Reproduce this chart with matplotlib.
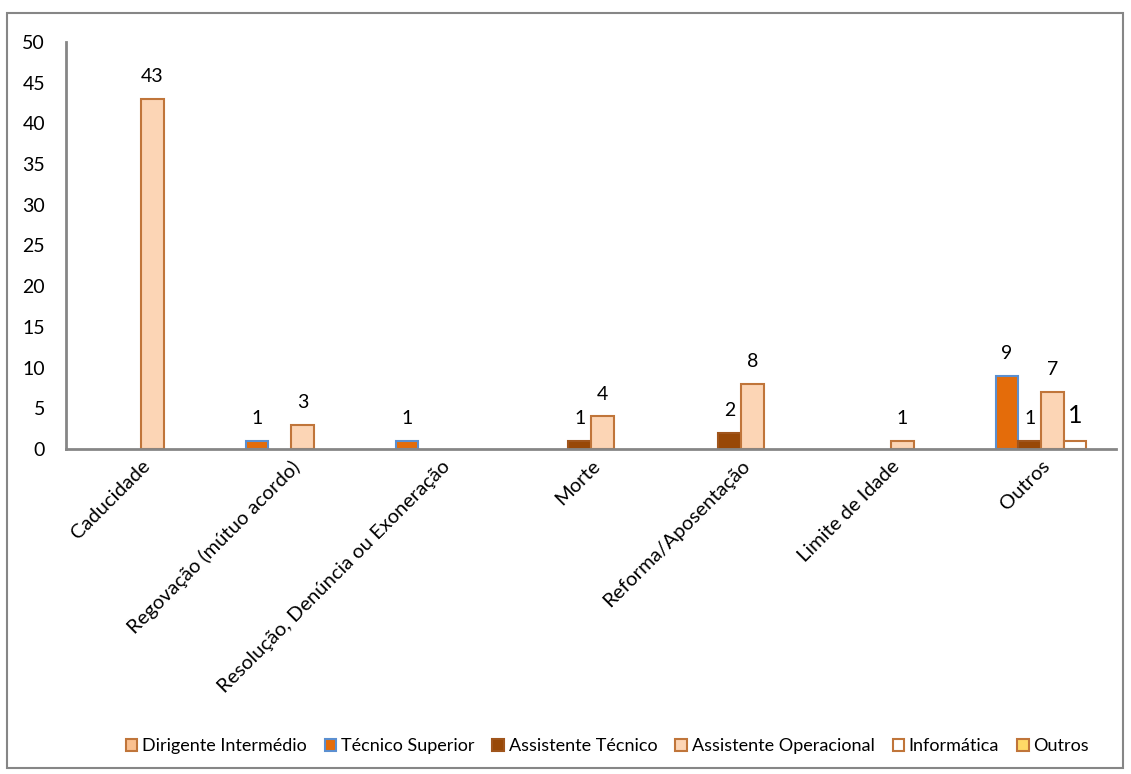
import matplotlib
matplotlib.use('Agg')
import matplotlib.pyplot as plt
import matplotlib.patches as mpatches
import numpy as np

plt.rcParams['font.family'] = ['Lato', 'DejaVu Sans']

# Data
categories = ['Caducidade', 'Regovação (mútuo acordo)', 'Resolução, Denúncia ou Exoneração',
              'Morte', 'Reforma/Aposentação', 'Limite de Idade', 'Outros']
series_names = ['Dirigente Intermédio', 'Técnico Superior', 'Assistente Técnico',
                'Assistente Operacional', 'Informática', 'Outros']
dirigente = [0, 0, 0, 0, 0, 0, 0]
tecnico_superior = [0, 1, 1, 0, 0, 0, 9]
assistente_tecnico = [0, 0, 0, 1, 2, 0, 1]
assistente_operacional = [43, 3, 0, 4, 8, 1, 7]
informatica = [0, 0, 0, 0, 0, 0, 1]
outros = [0, 0, 0, 0, 0, 0, 0]
values = [dirigente, tecnico_superior, assistente_tecnico, assistente_operacional, informatica, outros]

fills = ['#FAC08F', '#E46C0A', '#984807', '#FCD5B5', '#FFFFFF', '#FFD966']
edges = ['#C0753A', '#5B8FD0', '#A0551C', '#C0753A', '#C0753A', '#C0753A']

fig = plt.figure(figsize=(11.31, 7.74), dpi=100)
ax = fig.add_axes([66 / 1131, 1 - 449 / 774, 1050 / 1131, 407 / 774])

x = np.arange(len(categories))
w = 0.151
for i, (name, vals) in enumerate(zip(series_names, values)):
    vals = np.array(vals)
    pos = x + (i - 2.5) * w
    mask = vals > 0
    ax.bar(pos[mask], vals[mask], width=w, color=fills[i], edgecolor=edges[i], linewidth=1.5)
    for p, v in zip(pos[mask], vals[mask]):
        fs = 18 if name == 'Informática' else 14
        ax.annotate(str(v), (p, v), xytext=(0, 10), textcoords='offset points',
                    ha='center', va='bottom', fontsize=fs)

ax.set_xlim(-0.5, len(categories) - 0.5)
ax.set_ylim(0, 50)
ax.set_yticks(range(0, 51, 5))
ax.set_xticks(x)
ax.set_xticklabels(categories, rotation=45, ha='right', va='top', rotation_mode='anchor', fontsize=14.5)
ax.tick_params(axis='both', length=0)
ax.tick_params(axis='y', pad=15, labelsize=14)
ax.tick_params(axis='x', pad=6)
for s in ['top', 'right']:
    ax.spines[s].set_visible(False)
for s in ['left', 'bottom']:
    ax.spines[s].set_color('#868686')
    ax.spines[s].set_linewidth(2)

handles = [mpatches.Patch(facecolor=fills[i], edgecolor=edges[i], linewidth=1.5, label=series_names[i])
           for i in range(len(series_names))]
fig.legend(handles=handles, loc='center', bbox_to_anchor=(0.537, 0.036), ncol=6, frameon=False,
           fontsize=13, handlelength=0.65, handleheight=0.65, handletextpad=0.25, columnspacing=1.0)

# Outer chart border
fig.patches.append(mpatches.Rectangle((7 / 1131, 6 / 774), 1116 / 1131, 755 / 774, transform=fig.transFigure,
                                      fill=False, edgecolor='#868686', linewidth=1.5))

fig.savefig('out.png', dpi=100)
